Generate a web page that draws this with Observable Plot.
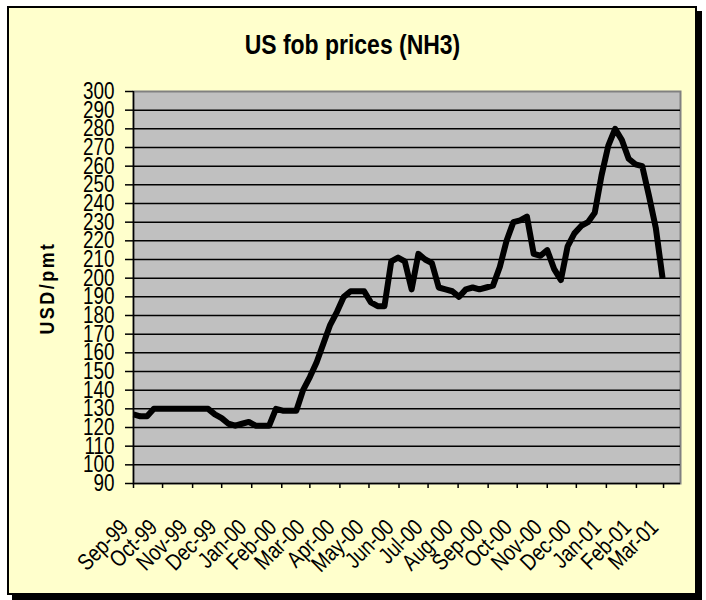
<!DOCTYPE html>
<html><head><meta charset="utf-8">
<script src="https://cdn.jsdelivr.net/npm/d3@7"></script>
<script src="https://cdn.jsdelivr.net/npm/@observablehq/plot@0.6"></script>
<style>
body{margin:0;background:#fff;}
#wrap{position:relative;width:706px;height:600px;overflow:hidden;font-family:"Liberation Sans",Arial,sans-serif;color:#000;}
#frame{position:absolute;left:7px;top:6px;width:686px;height:585px;border:2px solid #000;background:#FFFFCC;box-shadow:5px 5px 0 #000;}
#title{position:absolute;left:7px;width:690px;top:31px;line-height:28px;text-align:center;font-weight:bold;font-size:28px;}
#title span{display:inline-block;transform:scaleX(0.82);}
#ylab{position:absolute;left:46px;top:288px;transform:translate(-50%,-50%) rotate(-90deg) scaleX(0.85);font-weight:bold;font-size:21px;letter-spacing:3px;white-space:nowrap;line-height:21px;}
#chart{position:absolute;left:0;top:0;}
</style></head>
<body>
<div id="wrap">
  <div id="frame"></div>
  <div id="chart"></div>
  <div id="title"><span>US fob prices (NH3)</span></div>
  <div id="ylab">USD/pmt</div>
</div>
<script>
// Weekly observations starting 1 Sep 1999
const startDate = "1999-09-01";
const prices = [
  127,126,126,130,130,130,130,130,130,130,130,130,
  127,125,122,121,122,123,121,121,121,130,129,129,129,
  140,147,155,165,175,182,190,193,193,193,187,185,185,
  209,211,209,194,213,210,208,195,194,193,190,194,195,194,195,196,206,220,230,231,233,213,212,215,205,199,
  217,224,228,230,235,255,271,280,274,264,261,260,244,227,200
];
const monthTicks = ["1999-09-01","1999-10-01","1999-11-01","1999-12-01","2000-01-01","2000-02-01","2000-03-01",
  "2000-04-01","2000-05-01","2000-06-01","2000-07-01","2000-08-01","2000-09-01","2000-10-01","2000-11-01",
  "2000-12-01","2001-01-01","2001-02-01","2001-03-01"];
const yTicks = [90,100,110,120,130,140,150,160,170,180,190,200,210,220,230,240,250,260,270,280,290,300];
const gridValues = [100,110,120,130,140,150,160,170,180,190,200,210,220,230,240,250,260,270,280,290];
const xDomain = ["1999-09-01T00:00:00Z","2001-03-18T12:00:00Z"];
const yDomain = [90, 300];

const t0 = new Date(startDate + "T00:00:00Z");
const data = prices.map((v, i) => ({date: d3.utcDay.offset(t0, 7 * i), value: v}));
const months = monthTicks.map(s => new Date(s + "T00:00:00Z"));
const fmt = d3.utcFormat("%b-%y");

const font = '"Liberation Sans",Arial,sans-serif';

const chart = Plot.plot({
  width: 706,
  height: 600,
  marginLeft: 133,
  marginRight: 26,
  marginTop: 91,
  marginBottom: 117,
  style: {background: "transparent", fontFamily: font, fontSize: "23px", color: "#000", overflow: "visible"},
  x: {type: "utc", domain: xDomain.map(s => new Date(s))},
  y: {domain: yDomain},
  marks: [
    Plot.frame({fill: "#C0C0C0", stroke: "#808080", strokeWidth: 2}),
    Plot.ruleY(gridValues, {stroke: "#000", strokeWidth: 1.5}),
    Plot.line(data, {x: "date", y: "value", stroke: "#000", strokeWidth: 6, strokeLinejoin: "round", strokeLinecap: "butt"}),
    Plot.ruleY([yDomain[0]], {stroke: "#000", strokeWidth: 1.5}),
    Plot.ruleX([t0], {stroke: "#000", strokeWidth: 1.5}),
    Plot.axisY({ticks: yTicks, tickSize: 8, tickPadding: 11, tickFormat: d => String(d), label: null, fontSize: 23, strokeWidth: 1.5}),
    Plot.axisX({ticks: months, tickSize: 5, tickFormat: () => "", label: null, strokeWidth: 1.5}),
    Plot.text(months, {x: d => d, frameAnchor: "bottom", text: d => fmt(d), rotate: -45, textAnchor: "end", lineAnchor: "middle", dx: -9, dy: 40, fontSize: 23, fill: "#000"})
  ]
});
document.getElementById("chart").appendChild(chart);

// emulate a narrow (Arial Narrow-like) face by compressing glyphs horizontally
chart.querySelectorAll("text").forEach(t => {
  const L = t.getComputedTextLength();
  if (L > 0) {
    t.setAttribute("textLength", (L * 0.82).toFixed(2));
    t.setAttribute("lengthAdjust", "spacingAndGlyphs");
  }
});
</script>
</body></html>
